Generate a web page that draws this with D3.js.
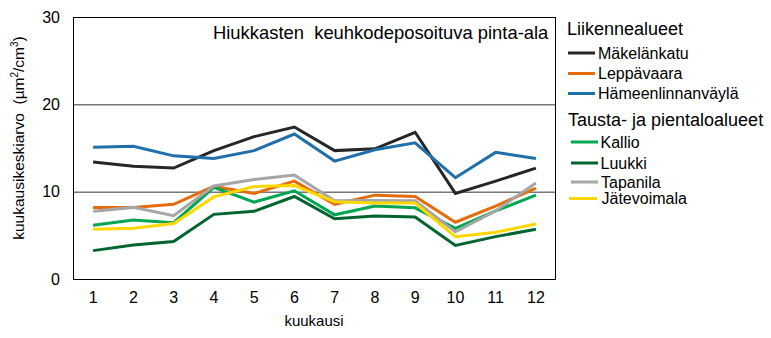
<!DOCTYPE html>
<html><head><meta charset="utf-8">
<script src="https://cdn.jsdelivr.net/npm/d3@7"></script>
<style>body{margin:0;background:#fff}svg{display:block;font-family:"Liberation Sans",Arial,sans-serif}</style>
</head><body><svg id="c" width="771" height="338"></svg>
<script>
const months = [1,2,3,4,5,6,7,8,9,10,11,12];
const yTicks = [0,10,20,30];
const title = "Hiukkasten  keuhkodeposoituva pinta-ala";
const xTitle = "kuukausi";
const group1 = "Liikennealueet";
const group2 = "Tausta- ja pientaloalueet";

const makelankatu = [13.4,12.9,12.7,14.7,16.3,17.4,14.7,14.9,16.8,9.8,11.2,12.7];
const leppavaara  = [8.2,8.2,8.55,10.6,9.8,11.2,8.55,9.6,9.45,6.5,8.35,10.4];
const hameenlinnanvayla = [15.1,15.2,14.1,13.8,14.7,16.6,13.5,14.8,15.6,11.6,14.5,13.8];
const kallio   = [6.15,6.75,6.45,10.5,8.8,10.1,7.35,8.35,8.15,5.8,7.8,9.6];
const luukki   = [3.25,3.9,4.3,7.4,7.75,9.45,6.9,7.2,7.1,3.85,4.85,5.7];
const tapanila = [7.75,8.2,7.25,10.65,11.4,11.9,8.95,9.0,8.95,5.4,7.8,11.0];
const jatevoimala = [5.7,5.8,6.35,9.4,10.6,10.7,8.85,8.7,8.7,4.85,5.35,6.3];

const seriesNames = ["Mäkelänkatu","Leppävaara","Hämeenlinnanväylä","Kallio","Luukki","Tapanila","Jätevoimala"];
const seriesValues = [makelankatu,leppavaara,hameenlinnanvayla,kallio,luukki,tapanila,jatevoimala];
const seriesColors = ["#262626","#E46C0A","#1F6FAB","#00A651","#00652E","#A6A6A6","#FFD700"];

const svg = d3.select("#c");
const L=73, R=556, T=17, B=279;
const x = d3.scaleBand().domain(months).range([L,R]);
const y = d3.scaleLinear().domain([0,30]).range([B,T]);

// gridlines
svg.append("g").selectAll("line").data(yTicks.filter(d=>d>0&&d<30)).join("line")
  .attr("x1",L).attr("x2",R).attr("y1",d=>y(d)+0.5).attr("y2",d=>y(d)+0.5)
  .attr("stroke","#333").attr("stroke-width",1);

// axes
const yAxis = svg.append("g").attr("transform",`translate(${L},0)`)
  .call(d3.axisLeft(y).tickValues(yTicks).tickSize(0).tickPadding(13));
yAxis.select(".domain").remove();
yAxis.selectAll("text").attr("font-size",16).attr("fill","#000").attr("font-family","Liberation Sans, Arial, sans-serif");

const xAxis = svg.append("g").attr("transform",`translate(0,${B})`)
  .call(d3.axisBottom(x).tickSize(0).tickPadding(13));
xAxis.select(".domain").remove();
xAxis.selectAll("text").attr("font-size",16).attr("fill","#000").attr("font-family","Liberation Sans, Arial, sans-serif");

// plot border
svg.append("rect").attr("x",L+0.5).attr("y",T+0.5).attr("width",R-L-1).attr("height",B-T)
  .attr("fill","none").attr("stroke","#000").attr("stroke-width",1);

// lines
const line = d3.line().x((d,i)=>x(months[i])+x.bandwidth()/2).y(d=>y(d));
svg.append("g").selectAll("path").data(seriesValues).join("path")
  .attr("d",line).attr("fill","none").attr("stroke",(d,i)=>seriesColors[i])
  .attr("stroke-width",3);

// title in plot
svg.append("text").attr("x",213).attr("y",39).attr("font-size",18.4).style("white-space","pre").text(title);

// axis titles
svg.append("text").attr("x",314).attr("y",326).attr("text-anchor","middle").attr("font-size",15).text(xTitle);
const yl = svg.append("text").attr("transform","translate(24,138) rotate(-90)").attr("text-anchor","middle").attr("font-size",15.5).style("white-space","pre");
yl.append("tspan").text("kuukausikeskiarvo  (µm");
yl.append("tspan").attr("font-size",10).attr("dy",-6).text("2");
yl.append("tspan").attr("dy",6).text("/cm");
yl.append("tspan").attr("font-size",10).attr("dy",-6).text("3");
yl.append("tspan").attr("dy",6).text(")");

// legend
svg.append("text").attr("x",567).attr("y",35).attr("font-size",18).text(group1);
svg.append("text").attr("x",568).attr("y",126).attr("font-size",18).text(group2);
const legRows = [
  {i:0,y:53,x1:568,x2:595,tx:598},
  {i:1,y:73.5,x1:568,x2:595,tx:598},
  {i:2,y:93.5,x1:568,x2:595,tx:598},
  {i:3,y:142,x1:571,x2:598,tx:600.5},
  {i:4,y:163,x1:571,x2:598,tx:600.5},
  {i:5,y:182,x1:571,x2:598,tx:601},
  {i:6,y:198.5,x1:569,x2:597,tx:601.5}
];
const lg = svg.append("g").selectAll("g").data(legRows).join("g");
lg.append("line").attr("x1",d=>d.x1).attr("x2",d=>d.x2).attr("y1",d=>d.y).attr("y2",d=>d.y)
  .attr("stroke",d=>seriesColors[d.i]).attr("stroke-width",3);
lg.append("text").attr("x",d=>d.tx).attr("y",d=>d.y+5.5).attr("font-size",16).text(d=>seriesNames[d.i]);
</script></body></html>
